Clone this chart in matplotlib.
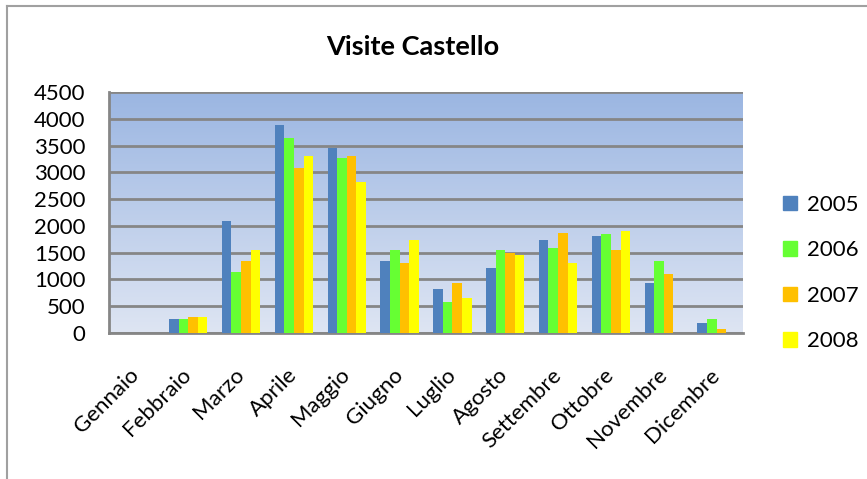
import numpy as np
import matplotlib
matplotlib.use("Agg")
import matplotlib.pyplot as plt
from matplotlib.lines import Line2D

months = ["Gennaio", "Febbraio", "Marzo", "Aprile", "Maggio", "Giugno",
          "Luglio", "Agosto", "Settembre", "Ottobre", "Novembre", "Dicembre"]
years = ["2005", "2006", "2007", "2008"]
v2005 = [0, 260, 2085, 3880, 3450, 1350, 820, 1205, 1735, 1805, 925, 180]
v2006 = [0, 260, 1135, 3640, 3275, 1555, 570, 1555, 1590, 1840, 1350, 255]
v2007 = [0, 290, 1345, 3075, 3310, 1310, 925, 1485, 1870, 1555, 1100, 80]
v2008 = [0, 290, 1555, 3310, 2825, 1735, 645, 1450, 1310, 1910, 0, 0]
yticks = [0, 500, 1000, 1500, 2000, 2500, 3000, 3500, 4000, 4500]
colors = ["#4F81BD", "#66FF33", "#FFC000", "#FFFF00"]

plt.rcParams['font.family'] = ['Lato', 'DejaVu Sans']

fig = plt.figure(figsize=(8.67, 4.79), dpi=100)
ax = fig.add_axes([109/867, 1-333/479, (743-109)/867, (333-92)/479])

# gradient background
grad = np.linspace(0, 1, 256).reshape(-1, 1)
c_top = np.array([155, 182, 226]) / 255
c_bot = np.array([222, 229, 243]) / 255
img = c_bot[None, None, :] * (1 - grad[..., None]) + c_top[None, None, :] * grad[..., None]
ax.imshow(img, extent=[-0.5, 11.5, 0, 4500], aspect='auto', origin='lower', zorder=0)

x = np.arange(len(months))
w = 0.182
series = [v2005, v2006, v2007, v2008]
for i, (vals, c, lab) in enumerate(zip(series, colors, years)):
    ax.bar(x + (i - 1.5) * w, vals, width=w, color=c, label=lab, zorder=3, linewidth=0)

ax.set_xlim(-0.5, 11.5)
ax.set_ylim(0, 4500)
ax.set_yticks(yticks)
ax.set_yticklabels([str(t) for t in yticks], fontsize=16)
for t in yticks:
    ax.axhline(t, color="#868686", lw=2, zorder=2)
ax.set_xticks(x)
ax.set_xticklabels(months, rotation=45, ha='right', va='center', rotation_mode='anchor', fontsize=16)
ax.tick_params(axis='x', length=0, pad=28)
ax.tick_params(axis='y', length=0, pad=17)
for s in ['top', 'right']:
    ax.spines[s].set_visible(False)
ax.spines['left'].set_color('#868686')
ax.spines['left'].set_linewidth(2)
ax.spines['bottom'].set_color('#868686')
ax.spines['bottom'].set_linewidth(2)

fig.text(413/867, 1-47/479, "Visite Castello", ha='center', va='center',
         fontsize=19.5, fontweight='bold')

handles = [plt.Rectangle((0, 0), 1, 1, color=c) for c in colors]
fig.legend(handles, years, loc='center left', bbox_to_anchor=(763/867, 1-273/479),
           frameon=False, fontsize=16, labelspacing=1.15, handlelength=0.62,
           handleheight=0.62, handletextpad=0.45)

# outer border
fig.add_artist(Line2D([7/867, 7/867], [0, 1-6/479], transform=fig.transFigure,
                      color='#A0A0A0', lw=1.5))
fig.add_artist(Line2D([7/867, 1], [1-6/479, 1-6/479], transform=fig.transFigure,
                      color='#A0A0A0', lw=1.5))

fig.savefig("out.png", dpi=100)
